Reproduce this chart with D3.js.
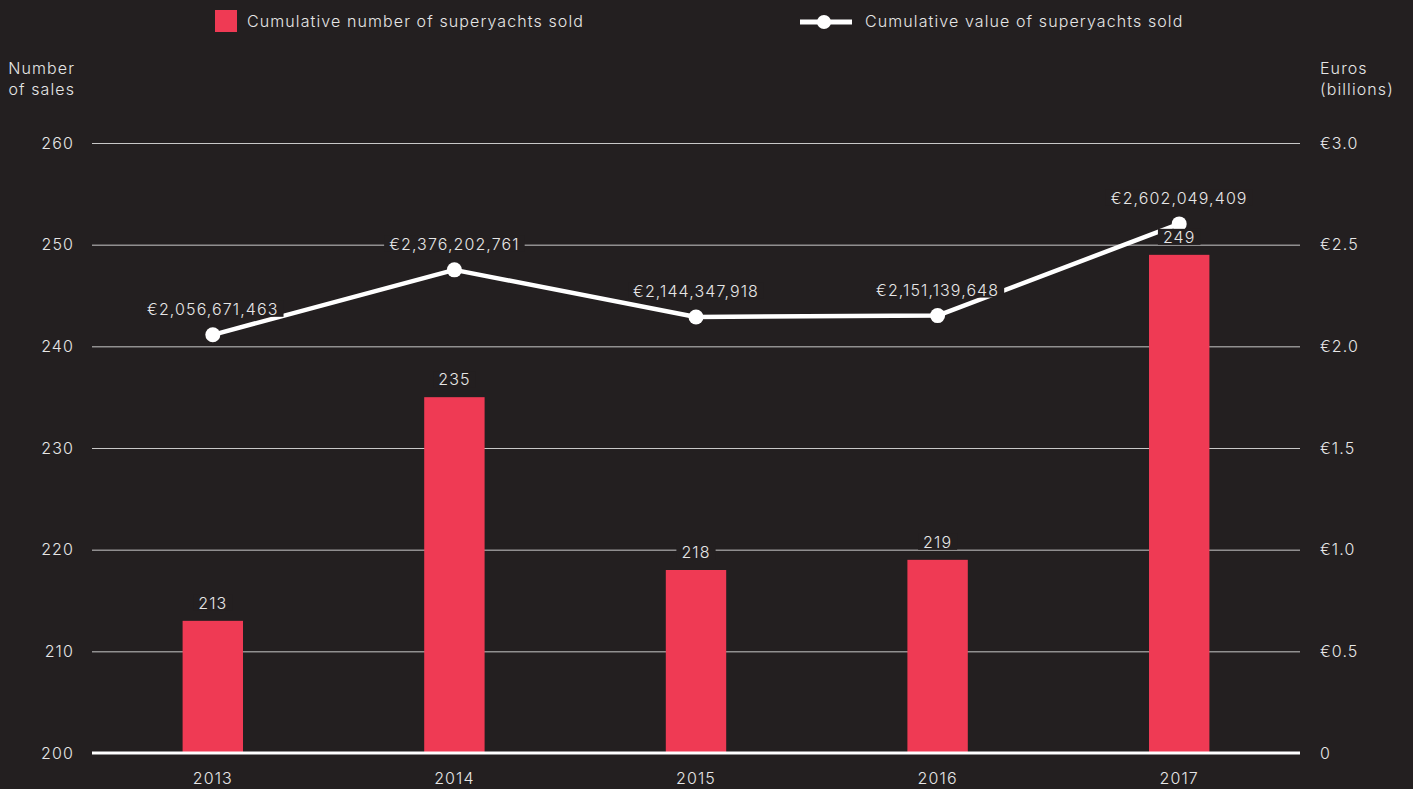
<!DOCTYPE html>
<html>
<head>
<meta charset="utf-8">
<script src="https://cdn.jsdelivr.net/npm/d3@7"></script>
<style>
  html, body { margin: 0; padding: 0; background: #231f20; }
  svg text { font-family: Inter, "Open Sans", sans-serif; font-weight: 300; fill: #e6e6e6; letter-spacing: 1.1px; }
</style>
</head>
<body>
<svg id="chart"></svg>
<script>
// Data
const years = ["2013", "2014", "2015", "2016", "2017"];
const sales = [213, 235, 218, 219, 249];
const values = [2056671463, 2376202761, 2144347918, 2151139648, 2602049409];
const leftTicks = [200, 210, 220, 230, 240, 250, 260];
const rightTicks = [0, 0.5, 1.0, 1.5, 2.0, 2.5, 3.0];

const width = 1413, height = 789;
const bg = "#231f20", red = "#ef3a54";

const svg = d3.select("#chart")
    .attr("width", width)
    .attr("height", height);

svg.append("rect").attr("width", width).attr("height", height).attr("fill", bg);

const margin = { left: 92, right: 113, top: 143, bottom: 36 };
const plotRight = width - margin.right;
const plotBottom = height - margin.bottom;

// Scales
const x = d3.scaleBand()
    .domain(years)
    .range([margin.left, plotRight])
    .paddingInner(0.75)
    .paddingOuter(0.375);

const yLeft = d3.scaleLinear().domain([200, 260]).range([plotBottom, margin.top]);
const yRight = d3.scaleLinear().domain([0, 3.0]).range([plotBottom, margin.top]);

function styleTicks(g) {
    g.selectAll(".tick text")
        .attr("font-size", 16)
        .attr("fill", "#e6e6e6")
        .style("font-family", "Inter, sans-serif");
}

// Gridlines + left ticks
const leftAxis = d3.axisLeft(yLeft)
    .tickValues(leftTicks)
    .tickSize(-(plotRight - margin.left))
    .tickPadding(18);

svg.append("g")
    .attr("transform", `translate(${margin.left},0)`)
    .call(leftAxis)
    .call(g => g.select(".domain").remove())
    .call(g => g.selectAll(".tick line")
        .attr("stroke", "#c8c8c8")
        .attr("stroke-width", 1))
    .call(styleTicks);

// Right ticks
const rightAxis = d3.axisRight(yRight)
    .tickValues(rightTicks)
    .tickSize(0)
    .tickPadding(20)
    .tickFormat(d => d === 0 ? "0" : "€" + d3.format(".1f")(d));

svg.append("g")
    .attr("transform", `translate(${plotRight},0)`)
    .call(rightAxis)
    .call(g => g.select(".domain").remove())
    .call(styleTicks);

// Bars
svg.append("g")
    .selectAll("rect")
    .data(sales)
    .join("rect")
    .attr("x", (d, i) => x(years[i]))
    .attr("y", d => yLeft(d))
    .attr("width", x.bandwidth())
    .attr("height", d => yLeft(200) - yLeft(d))
    .attr("fill", red);

// Baseline
svg.append("line")
    .attr("x1", margin.left).attr("x2", plotRight)
    .attr("y1", yLeft(200)).attr("y2", yLeft(200))
    .attr("stroke", "#ffffff")
    .attr("stroke-width", 3);

// X axis labels
const xAxis = d3.axisBottom(x).tickSize(0).tickPadding(20);
svg.append("g")
    .attr("transform", `translate(0,${plotBottom})`)
    .call(xAxis)
    .call(g => g.select(".domain").remove())
    .call(styleTicks);

// Line
const cx = (d, i) => x(years[i]) + x.bandwidth() / 2;
const line = d3.line()
    .x((d, i) => cx(d, i))
    .y(d => yRight(d / 1e9));

svg.append("path")
    .datum(values)
    .attr("d", line)
    .attr("fill", "none")
    .attr("stroke", "#ffffff")
    .attr("stroke-width", 4.5)
    .attr("stroke-linejoin", "round");

svg.append("g")
    .selectAll("circle")
    .data(values)
    .join("circle")
    .attr("cx", cx)
    .attr("cy", d => yRight(d / 1e9))
    .attr("r", 7.5)
    .attr("fill", "#ffffff");

// Labels with background boxes
function boxedLabel(g, tx, ty, text) {
    const t = g.append("text")
        .attr("x", tx).attr("y", ty)
        .attr("text-anchor", "middle")
        .attr("font-size", 16)
        .text(text);
    const b = t.node().getBBox();
    g.insert("rect", "text")
        .attr("x", b.x - 5).attr("y", b.y + 2)
        .attr("width", b.width + 10).attr("height", b.height - 4)
        .attr("fill", bg);
}

const labels = svg.append("g");
sales.forEach((d, i) => {
    const g = labels.append("g");
    boxedLabel(g, cx(d, i), yLeft(d) - 12, d);
});
values.forEach((d, i) => {
    const g = labels.append("g");
    boxedLabel(g, cx(d, i), yRight(d / 1e9) - 20, "€" + d3.format(",")(d));
});

// Axis titles
const leftTitle = svg.append("text")
    .attr("text-anchor", "end")
    .attr("font-size", 16);
leftTitle.append("tspan").attr("x", 75).attr("y", 74).text("Number");
leftTitle.append("tspan").attr("x", 75).attr("y", 95).text("of sales");

const rightTitle = svg.append("text")
    .attr("text-anchor", "start")
    .attr("font-size", 16);
rightTitle.append("tspan").attr("x", 1320).attr("y", 74).text("Euros");
rightTitle.append("tspan").attr("x", 1320).attr("y", 95).text("(billions)");

// Legend
svg.append("rect")
    .attr("x", 215).attr("y", 10)
    .attr("width", 22).attr("height", 22)
    .attr("fill", red);
svg.append("text")
    .attr("x", 247).attr("y", 27)
    .attr("font-size", 16)
    .text("Cumulative number of superyachts sold");

svg.append("line")
    .attr("x1", 800).attr("x2", 852)
    .attr("y1", 22).attr("y2", 22)
    .attr("stroke", "#ffffff")
    .attr("stroke-width", 5);
svg.append("circle")
    .attr("cx", 824).attr("cy", 22).attr("r", 7)
    .attr("fill", "#ffffff");
svg.append("text")
    .attr("x", 865).attr("y", 27)
    .attr("font-size", 16)
    .text("Cumulative value of superyachts sold");
</script>
</body>
</html>
